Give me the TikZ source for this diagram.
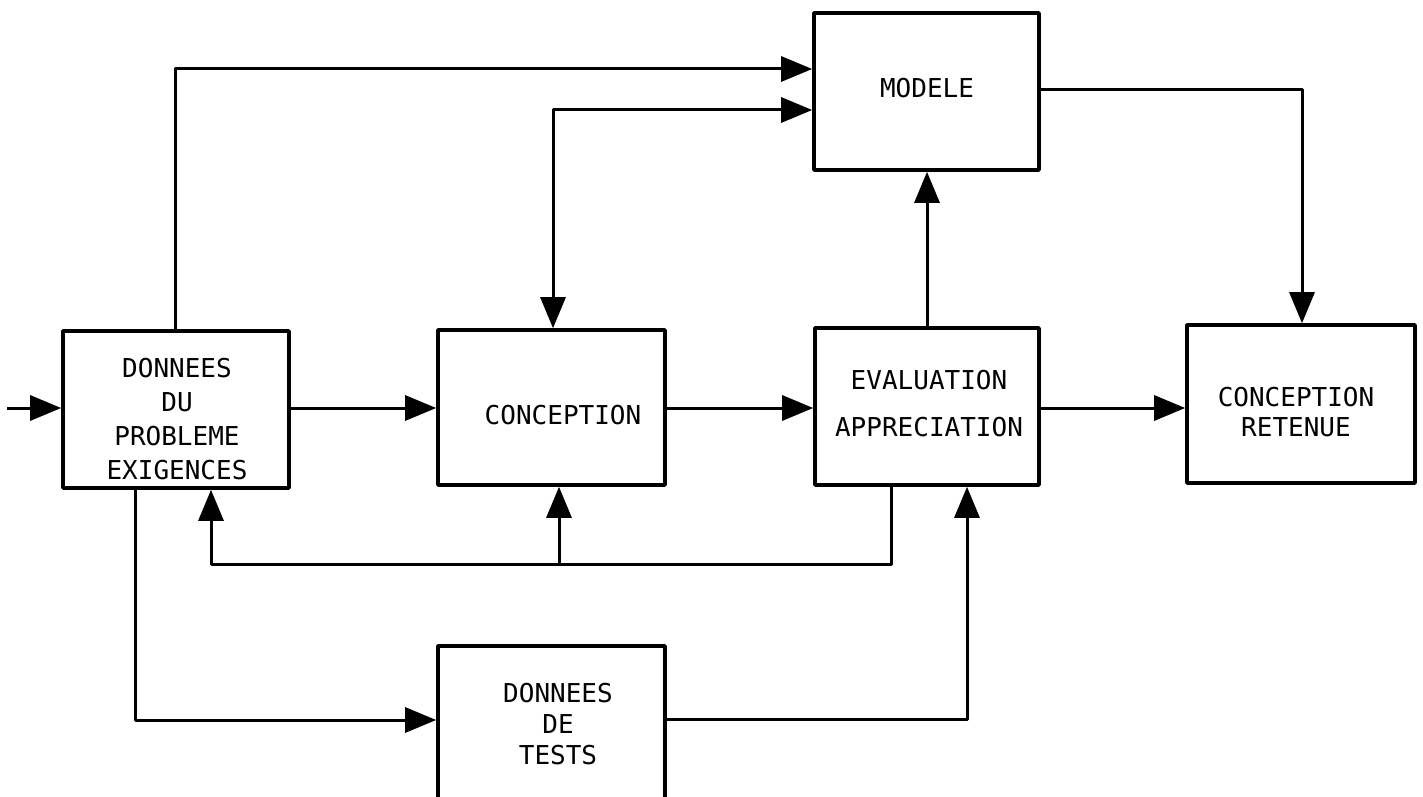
\documentclass[tikz,border=0pt]{standalone}
\usepackage{fontspec}
\newfontfamily\plotfont{DejaVu Sans Mono}
\usetikzlibrary{arrows.meta}
\begin{document}
\begin{tikzpicture}[x=1pt,y=-1pt,
  box/.style={draw,line width=3.6pt,line join=round,inner sep=0pt,rectangle},
  lbl/.style={inner sep=0pt,align=center,font=\plotfont\fontsize{26}{34}\selectfont},
  wire/.style={line width=3pt,line join=round},
  arr/.style={wire,-{Triangle[length=31pt,width=25pt]}},
  arrboth/.style={wire,{Triangle[length=31pt,width=25pt]}-{Triangle[length=31pt,width=25pt]}}]
\useasboundingbox (0,0) rectangle (1423,797);

% blocks
\node[box,minimum width=226pt,minimum height=157pt] (don) at (176,409.5) {};
\node[box,minimum width=227pt,minimum height=155pt] (con) at (551.5,407.5) {};
\node[box,minimum width=224pt,minimum height=157pt] (eva) at (927,406.5) {};
\node[box,minimum width=228pt,minimum height=158pt] (ret) at (1301,404) {};
\node[box,minimum width=225pt,minimum height=157pt] (mod) at (926.5,91.5) {};
\node[box,minimum width=227pt,minimum height=157pt] (tst) at (551.5,724.5) {};

% block texts
\node[lbl] (tdon) at (177,419) {DONNEES\\DU\\PROBLEME\\EXIGENCES};
\node[lbl] (tcon) at (563,415) {CONCEPTION};
\node[lbl,font=\plotfont\fontsize{26}{47}\selectfont] (teva) at (929,403.5) {EVALUATION\\APPRECIATION};
\node[lbl,font=\plotfont\fontsize{26}{30}\selectfont] (tret) at (1296,412) {CONCEPTION\\RETENUE};
\node[lbl] (tmod) at (927,88) {MODELE};
\node[lbl,font=\plotfont\fontsize{26}{31}\selectfont] (ttst) at (558,724) {DONNEES\\DE\\TESTS};

% routing points
\coordinate (in) at (7,408);
\coordinate (mid) at (0,408);
\coordinate (c1) at (175,69);
\coordinate (c2) at (553,110);
\coordinate (c3) at (1302,90);
\coordinate (c4) at (891,564);
\coordinate (c5) at (211,564);
\coordinate (c6) at (559,564);
\coordinate (c7) at (135,720);
\coordinate (c8) at (967,719);

% main chain
\draw[arr] (in) -- (in -| don.west);
\draw[arr] (don.east |- mid) -- (con.west |- mid);
\draw[arr] (con.east |- mid) -- (eva.west |- mid);
\draw[arr] (eva.east |- mid) -- (ret.west |- mid);
\draw[arr] (eva.north) -- (eva.north |- mod.south);

% links to the model
\draw[arr] (c1 |- don.north) -- (c1) -- (c1 -| mod.west);
\draw[arrboth] (c2 |- con.north) -- (c2) -- (c2 -| mod.west);
\draw[arr] (mod.east |- c3) -- (c3) -- (c3 |- ret.north);

% feedback from evaluation
\draw[arr] (c4 |- eva.south) -- (c4) -- (c5) -- (c5 |- don.south);
\draw[arr] (c6) -- (c6 |- con.south);

% test data
\draw[arr] (c7 |- don.south) -- (c7) -- (c7 -| tst.west);
\draw[arr] (tst.east |- c8) -- (c8) -- (c8 |- eva.south);
\end{tikzpicture}
\end{document}
